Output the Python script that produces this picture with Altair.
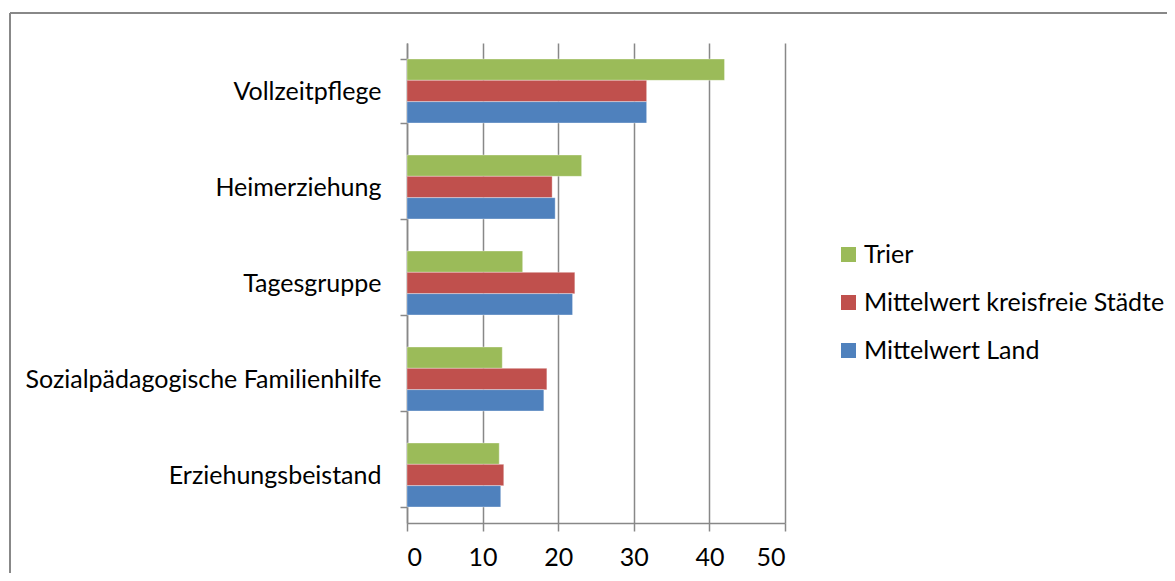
import altair as alt
import pandas as pd

categories = ["Vollzeitpflege", "Heimerziehung", "Tagesgruppe",
              "Sozialpädagogische Familienhilfe", "Erziehungsbeistand"]
series = ["Trier", "Mittelwert kreisfreie Städte", "Mittelwert Land"]
trier = [42.0, 23.1, 15.3, 12.6, 12.2]
staedte = [31.7, 19.2, 22.2, 18.5, 12.8]
land = [31.7, 19.6, 21.9, 18.1, 12.4]
colors = ["#9BBB59", "#C0504D", "#4F81BD"]
x_ticks = [0, 10, 20, 30, 40, 50]

rows = []
for s, vals in zip(series, [trier, staedte, land]):
    for c, v in zip(categories, vals):
        rows.append({"Kategorie": c, "Reihe": s, "Wert": v})
df = pd.DataFrame(rows)

FONT = "Lato"
FS = 25
GRAY = "#888888"

bars = alt.Chart(df).mark_bar(stroke="white", strokeOpacity=0.35, strokeWidth=1).encode(
    x=alt.X("Wert:Q", scale=alt.Scale(domain=[0, 50], nice=False),
            axis=alt.Axis(values=x_ticks, title=None, grid=True, gridColor=GRAY,
                          gridWidth=1.5, domainColor=GRAY, domainWidth=1.5,
                          tickColor=GRAY, tickSize=8, tickWidth=1.5,
                          labelFontSize=FS, labelFont=FONT, labelColor="black",
                          labelPadding=14)),
    y=alt.Y("Kategorie:N", sort=categories,
            scale=alt.Scale(paddingInner=1/3, paddingOuter=1/6),
            axis=alt.Axis(title=None, tickBand="extent", domainColor=GRAY,
                          domainWidth=1.5, tickColor=GRAY, tickSize=7,
                          tickWidth=1.5, labelFontSize=FS, labelFont=FONT,
                          labelColor="black", labelPadding=19, labelLimit=0,
                          grid=False)),
    yOffset=alt.YOffset("Reihe:N", sort=series,
                        scale=alt.Scale(paddingInner=0, paddingOuter=0)),
    color=alt.Color("Reihe:N", sort=series,
                    scale=alt.Scale(domain=series, range=colors),
                    legend=alt.Legend(title=None, orient="none", legendX=429,
                                      legendY=199, padding=0,
                                      symbolType="square",
                                      symbolSize=225, symbolStrokeWidth=0,
                                      labelFontSize=FS, labelFont=FONT,
                                      labelColor="black", labelOffset=3,
                                      labelLimit=0, rowPadding=22)),
)

frame_data = alt.Data(values=[{"k": 1}])
frame_left = alt.Chart(frame_data).mark_rule(color=GRAY, strokeWidth=2).encode(
    x=alt.value(-397), y=alt.value(-30), y2=alt.value(600))
frame_top = alt.Chart(frame_data).mark_rule(color=GRAY, strokeWidth=2).encode(
    x=alt.value(-397), x2=alt.value(800), y=alt.value(-30))

chart = alt.layer(bars, frame_left, frame_top).properties(
    width=378, height=480,
    autosize=alt.AutoSizeParams(type="none"),
    padding={"left": 399, "top": 35, "right": 382, "bottom": 50},
).configure_view(stroke=None)

chart.save("out.html", embed_options={"renderer": "svg", "actions": False})
